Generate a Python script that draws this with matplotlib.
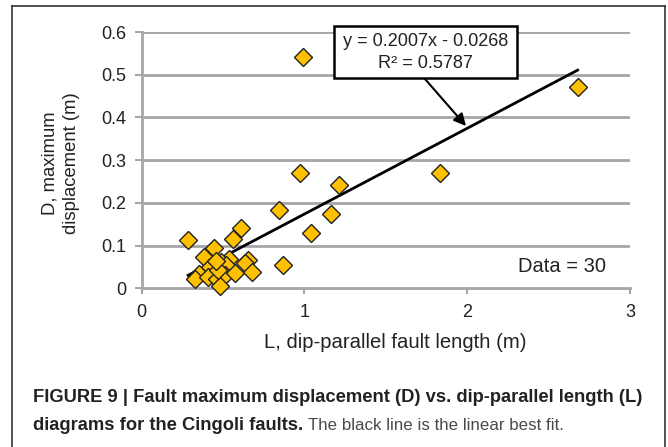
import matplotlib
matplotlib.use("Agg")
import matplotlib.pyplot as plt
from matplotlib.lines import Line2D
import numpy as np

plt.rcParams['font.family'] = ['Liberation Sans', 'DejaVu Sans']

# Data
L = [0.285, 0.561, 0.612, 0.445, 0.380, 0.653, 0.636, 0.678, 0.536, 0.490,
     0.418, 0.520, 0.353, 0.326, 0.408, 0.462, 0.510, 0.571, 0.484, 0.470,
     0.455, 0.843, 0.871, 1.040, 1.160, 1.215, 0.974, 0.990, 1.833, 2.678]
D = [0.114, 0.115, 0.140, 0.094, 0.073, 0.066, 0.060, 0.038, 0.069, 0.061,
     0.050, 0.054, 0.033, 0.021, 0.026, 0.022, 0.031, 0.036, 0.005, 0.042,
     0.065, 0.183, 0.054, 0.129, 0.174, 0.241, 0.271, 0.542, 0.271, 0.472]
slope = 0.2007
intercept = -0.0268
x_ticks = [0, 1, 2, 3]
y_ticks = [0, 0.1, 0.2, 0.3, 0.4, 0.5, 0.6]

W, H = 668, 447
fig = plt.figure(figsize=(W / 100, H / 100), dpi=100)
ax = fig.add_axes([141.7 / W, 1 - 288.3 / H, (630 - 141.7) / W, (288.3 - 32) / H])

grid_c = '#a6a6a6'
txt_c = '#222222'
ax.set_xlim(0, 3)
ax.set_ylim(0, 0.6)
ax.set_yticks(y_ticks)
ax.set_yticklabels(['0', '0.1', '0.2', '0.3', '0.4', '0.5', '0.6'])
ax.set_xticks(x_ticks)
ax.set_xticklabels(['0', '1', '2', '3'])
for y in y_ticks[1:]:
    ax.axhline(y, color=grid_c, lw=2, zorder=1)
for s in ['top', 'right']:
    ax.spines[s].set_visible(False)
for s in ['left', 'bottom']:
    ax.spines[s].set_color(grid_c)
    ax.spines[s].set_linewidth(2)
ax.tick_params(axis='both', colors=grid_c, width=1.5, length=5, labelsize=13,
               labelcolor=txt_c, pad=6)
ax.tick_params(axis='x', length=4, pad=7)

# fit line
xf = np.array([min(L), max(L)])
ax.plot(xf, slope * xf + intercept, color='black', lw=2, zorder=3, clip_on=False)

ax.plot(L, D, linestyle='none', marker='D', ms=9.3, mfc='#ffc000', mec='#222222',
        mew=1.0, zorder=4, clip_on=False)

def fx(px):
    return px / W
def fy(py):
    return 1 - py / H

# equation box and arrow
fig.patches.append(plt.Rectangle((fx(334), fy(78)), (517 - 334) / W, (78 - 26) / H,
                                 transform=fig.transFigure, fill=True, fc='white',
                                 ec='black', lw=1.8, zorder=5))
fig.text(fx(425.5), fy(42), 'y = 0.2007x - 0.0268', ha='center', va='center',
         fontsize=13.1, color=txt_c, zorder=6)
fig.text(fx(425.5), fy(63), 'R² = 0.5787', ha='center', va='center',
         fontsize=13.1, color=txt_c, zorder=6)
ax.annotate('', xy=(fx(466), fy(126)), xycoords='figure fraction',
            xytext=(fx(425), fy(79)), textcoords='figure fraction',
            arrowprops=dict(arrowstyle='-|>', color='black', lw=1.5,
                            mutation_scale=18, shrinkA=0, shrinkB=0), zorder=6)

fig.text(fx(562), fy(266), 'Data = 30', ha='center', va='center',
         fontsize=14.5, color=txt_c)

# axis labels
fig.text(fx(50), fy(163), 'D, maximum', rotation=90, ha='center', va='center',
         fontsize=13.3, color=txt_c)
fig.text(fx(71), fy(163), 'displacement (m)', rotation=90, ha='center', va='center',
         fontsize=13.3, color=txt_c)
fig.text(fx(395), fy(343), 'L, dip-parallel fault length (m)', ha='center',
         va='center', fontsize=14.6, color=txt_c)

# caption
cap_fam = ['Liberation Sans', 'DejaVu Sans']
fig.text(fx(33), fy(397),
         'FIGURE 9 | Fault maximum displacement (D) vs. dip-parallel length (L)',
         ha='left', va='center', fontsize=13.2, fontweight='bold', family=cap_fam,
         color=txt_c)
t1 = fig.text(fx(33), fy(425), 'diagrams for the Cingoli faults.', ha='left',
              va='center', fontsize=13.2, fontweight='bold', family=cap_fam,
              color=txt_c)
fig.canvas.draw()
bb = t1.get_window_extent(renderer=fig.canvas.get_renderer())
fig.text(bb.x1 / W + 5 / W, fy(425), 'The black line is the linear best fit.',
         ha='left', va='center', fontsize=12.2, family=cap_fam, color='#4a4a4a')

# frame
fc = '#333333'
fig.add_artist(Line2D([fx(11.5), fx(11.5)], [fy(6), 0], color=fc, lw=1.2))
fig.add_artist(Line2D([fx(665), fx(665)], [fy(6), 0], color=fc, lw=1.2))
fig.add_artist(Line2D([fx(11.5), fx(665)], [fy(6), fy(6)], color=fc, lw=1.2))

fig.savefig('out.png', dpi=100)
